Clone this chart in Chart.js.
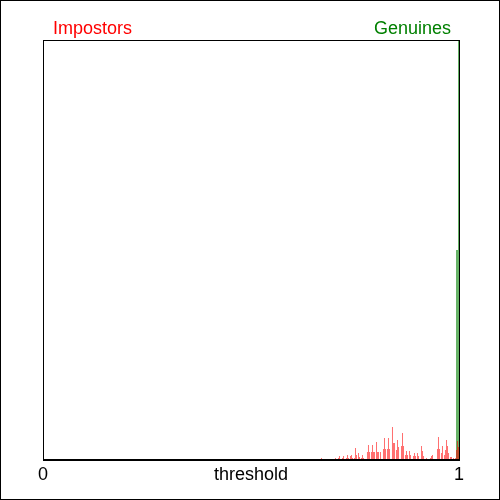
<!DOCTYPE html>
<html lang="en">
<head>
  <meta charset="UTF-8">
  <title>Impostors / Genuines</title>
  <script src="https://cdn.jsdelivr.net/npm/chart.js"></script>
  <style>
    html, body {
      margin: 0;
      padding: 0;
      background: #fff;
    }
    .chart-container {
      width: 500px;
      height: 500px;
    }
  </style>
</head>
<body>
  <div class="chart-container">
    <canvas id="chartCanvas" width="500" height="500"></canvas>
  </div>

  <script>
    // score bins (threshold position) and relative frequency, % of the highest bin
    const impostorScores = [
      0.5757, 0.5853, 0.6094, 0.6214, 0.6310, 0.6430, 0.6695, 0.6719, 0.6815,
      0.7007, 0.7031, 0.7103, 0.7127, 0.7200, 0.7224, 0.7296, 0.7320, 0.7344,
      0.7392, 0.7416, 0.7440, 0.7488, 0.7512, 0.7536, 0.7584, 0.7608, 0.7656,
      0.7680, 0.7704, 0.7752, 0.7800, 0.7824, 0.7849, 0.7897, 0.7921, 0.7945,
      0.7969, 0.8017, 0.8041, 0.8065, 0.8113, 0.8185, 0.8209, 0.8233, 0.8281,
      0.8305, 0.8329, 0.8401, 0.8425, 0.8450, 0.8498, 0.8522, 0.8546, 0.8618,
      0.8642, 0.8666, 0.8714, 0.8738, 0.8762, 0.8810, 0.8834, 0.8906, 0.8930,
      0.8954, 0.9002, 0.9026, 0.9099, 0.9123, 0.9147, 0.9219, 0.9267, 0.9315,
      0.9339, 0.9363, 0.9483, 0.9507, 0.9531, 0.9579, 0.9603, 0.9651, 0.9675,
      0.9700, 0.9724, 0.9748, 0.9796, 0.9820, 0.9868, 0.9916, 0.9940, 0.9964,
      0.9988
    ];
    const impostorFreq = [
      0.24, 0.24, 0.24, 0.24, 0.24, 0.24, 0.48, 0.24, 0.24,
      0.24, 0.48, 0.48, 0.95, 0.48, 0.95, 0.48, 1.19, 0.48,
      0.95, 1.19, 0.48, 0.48, 2.86, 1.19, 1.67, 0.71, 0.48,
      1.19, 0.48, 0.24, 1.90, 3.57, 1.90, 1.90, 3.57, 1.90,
      1.90, 4.29, 1.90, 1.90, 1.90, 2.62, 5.24, 2.62, 2.62,
      5.24, 2.62, 7.86, 4.05, 4.05, 2.38, 4.76, 3.10, 3.33,
      6.43, 3.33, 1.19, 2.14, 1.19, 2.14, 1.19, 0.95, 1.67,
      0.95, 1.67, 0.95, 3.33, 2.14, 0.95, 0.48, 0.24, 0.48,
      0.95, 1.19, 2.62, 5.48, 2.62, 1.67, 3.33, 1.19, 2.38,
      4.76, 3.33, 1.67, 0.71, 0.71, 0.48, 0.48, 2.38, 4.52,
      3.10
    ];
    const genuineScores = [0.9940, 0.9964, 0.9988];
    const genuineFreq = [50, 50, 100];

    const seriesNames = ["Impostors", "Genuines"];
    const tickValues = [0, 0.5, 1];
    const tickLabels = ["0", "threshold", "1"];

    const FONT = '"Liberation Sans", Arial, sans-serif';

    const framePlugin = {
      id: "frame",
      afterDatasetsDraw(chart) {
        const { ctx, chartArea: a } = chart;
        ctx.save();
        ctx.strokeStyle = "#000";
        ctx.lineWidth = 1;
        ctx.strokeRect(0.5, 0.5, chart.width - 1, chart.height - 1);
        ctx.strokeRect(a.left + 0.5, a.top + 0.5, a.right - a.left, a.bottom - a.top);
        ctx.beginPath();
        ctx.moveTo(a.left, a.bottom - 0.5);
        ctx.lineTo(a.right + 1, a.bottom - 0.5);
        ctx.stroke();

        // series names above the box
        ctx.font = "18px " + FONT;
        ctx.textBaseline = "alphabetic";
        ctx.fillStyle = "#ff0000";
        ctx.textAlign = "left";
        ctx.fillText(seriesNames[0], a.left + 10, 34);
        ctx.fillStyle = "#008000";
        ctx.textAlign = "right";
        ctx.fillText(seriesNames[1], a.right - 8, 34);
        ctx.restore();
      }
    };

    const ctx = document.getElementById("chartCanvas").getContext("2d");
    new Chart(ctx, {
      type: "bar",
      data: {
        datasets: [
          {
            label: seriesNames[0],
            data: impostorScores.map((x, i) => ({ x: x, y: impostorFreq[i] })),
            backgroundColor: "rgba(255, 0, 0, 0.57)",
            barThickness: 1,
            inflateAmount: 0,
            grouped: false
          },
          {
            label: seriesNames[1],
            data: genuineScores.map((x, i) => ({ x: x, y: genuineFreq[i] })),
            backgroundColor: "rgba(0, 128, 0, 0.6)",
            barThickness: 1,
            inflateAmount: 0,
            grouped: false
          }
        ]
      },
      options: {
        responsive: false,
        animation: false,
        layout: { padding: { top: 40, left: 43, right: 41, bottom: 0 } },
        plugins: {
          legend: { display: false },
          tooltip: { enabled: false }
        },
        scales: {
          x: {
            type: "linear",
            min: 0,
            max: 1,
            offset: false,
            grid: { display: false, drawTicks: false },
            border: { display: false },
            afterBuildTicks: (scale) => {
              scale.ticks = tickValues.map(v => ({ value: v }));
            },
            afterFit: (scale) => {
              scale.height = 40;
            },
            ticks: {
              autoSkip: false,
              maxRotation: 0,
              padding: 4,
              color: "#000",
              font: { family: FONT, size: 18 },
              callback: (value, index) => tickLabels[index]
            }
          },
          y: {
            display: false,
            min: 0,
            max: 100
          }
        }
      },
      plugins: [framePlugin]
    });
  </script>
</body>
</html>
